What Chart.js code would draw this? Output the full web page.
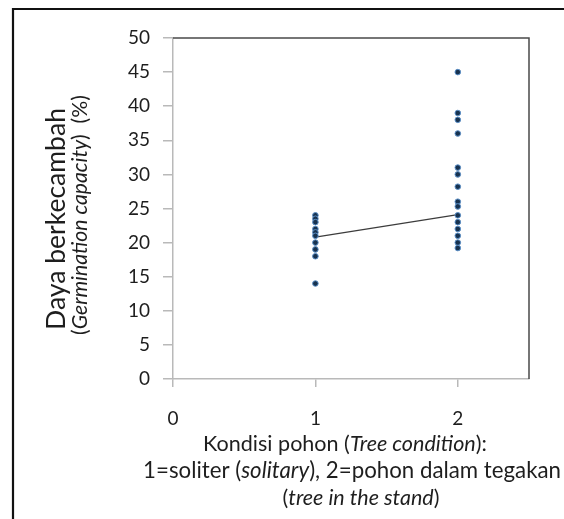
<!DOCTYPE html>
<html>
<head>
<meta charset="utf-8">
<script src="https://cdn.jsdelivr.net/npm/chart.js@4.4.1/dist/chart.umd.min.js"></script>
<style>
  html, body { margin: 0; padding: 0; background: #fff; }
  #wrap { position: relative; width: 564px; height: 519px; }
</style>
</head>
<body>
<div id="wrap"><canvas id="chart" width="564" height="519"></canvas></div>
<script>
// Data
const conditionCodes = [1, 2];
const solitaryValues = [24, 23.5, 23, 22, 21.5, 21, 20, 19, 18, 14];
const standValues = [45, 39, 38, 36, 31, 30, 28.2, 26, 25.3, 24, 23, 22, 21, 20, 19.2];
const trendValues = [20.8, 24.1];
const yTicks = [0, 5, 10, 15, 20, 25, 30, 35, 40, 45, 50];
const xTicks = [0, 1, 2];

const FONT = 'Lato, "Open Sans", sans-serif';
const TEXT_COLOR = '#1e1e1e';
const AXIS_GRAY = '#b9b9b9';

const pointStyle = {
  type: 'scatter',
  pointRadius: 2.8,
  pointHoverRadius: 2.8,
  backgroundColor: '#17324f',
  borderColor: '#5b8fc7',
  borderWidth: 1,
  showLine: false
};

// Titles have italic parts, so they are drawn by hand.
// Font size is picked so the line gets about the width it has in the picture.
function drawMixed(ctx, parts, cx, cy, targetWidth) {
  const widthAt = size => parts.reduce((sum, p) => {
    ctx.font = (p.italic ? 'italic ' : '') + size + 'px ' + FONT;
    return sum + ctx.measureText(p.t).width;
  }, 0);
  const size = 20 * targetWidth / widthAt(20);
  const fonts = parts.map(p => (p.italic ? 'italic ' : '') + size + 'px ' + FONT);
  let x = cx - widthAt(size) / 2;
  ctx.textBaseline = 'middle';
  ctx.textAlign = 'left';
  parts.forEach((p, i) => {
    ctx.font = fonts[i];
    ctx.fillText(p.t, x, cy);
    x += ctx.measureText(p.t).width;
  });
}

const decorPlugin = {
  id: 'decor',
  afterDraw(chart) {
    const ctx = chart.ctx;
    const a = chart.chartArea;
    ctx.save();
    // plot frame top and right
    ctx.strokeStyle = '#4a4a4a';
    ctx.lineWidth = 1.5;
    ctx.beginPath();
    ctx.moveTo(a.left, a.top);
    ctx.lineTo(a.right, a.top);
    ctx.lineTo(a.right, a.bottom);
    ctx.stroke();
    // outer picture border
    ctx.strokeStyle = '#111';
    ctx.lineWidth = 2.2;
    ctx.beginPath();
    ctx.moveTo(13, 519);
    ctx.lineTo(13, 9);
    ctx.lineTo(564, 9);
    ctx.stroke();

    ctx.fillStyle = TEXT_COLOR;
    // x title
    drawMixed(ctx, [{ t: 'Kondisi pohon (' }, { t: 'Tree condition', italic: true }, { t: '):' }], 345, 444, 284);
    drawMixed(ctx, [{ t: '1=soliter (' }, { t: 'solitary', italic: true }, { t: '), 2=pohon dalam tegakan' }], 352, 471, 418);
    drawMixed(ctx, [{ t: '(' }, { t: 'tree in the stand', italic: true }, { t: ')' }], 361, 498, 157);
    // y title
    ctx.save();
    ctx.translate(56, 219);
    ctx.rotate(-Math.PI / 2);
    drawMixed(ctx, [{ t: 'Daya berkecambah' }], 0, 0, 222);
    ctx.restore();
    ctx.save();
    ctx.translate(80, 215);
    ctx.rotate(-Math.PI / 2);
    drawMixed(ctx, [{ t: '(' }, { t: 'Germination capacity', italic: true }, { t: ')  (%)' }], 0, 0, 240);
    ctx.restore();
    ctx.restore();
  }
};

new Chart(document.getElementById('chart'), {
  type: 'scatter',
  data: {
    datasets: [
      Object.assign({ label: 'soliter', data: solitaryValues.map(v => ({ x: conditionCodes[0], y: v })) }, pointStyle),
      Object.assign({ label: 'tegakan', data: standValues.map(v => ({ x: conditionCodes[1], y: v })) }, pointStyle),
      {
        type: 'line',
        label: 'rata-rata',
        data: conditionCodes.map((c, i) => ({ x: c, y: trendValues[i] })),
        borderColor: '#3c3c3c',
        borderWidth: 1.2,
        pointRadius: 0,
        fill: false,
        order: 1
      }
    ]
  },
  options: {
    responsive: false,
    animation: false,
    events: [],
    layout: { padding: { left: 113, top: 38, right: 35, bottom: 90 } },
    plugins: { legend: { display: false }, tooltip: { enabled: false } },
    scales: {
      x: {
        type: 'linear',
        min: 0,
        max: 2.5,
        afterFit(scale) { scale.height = 50; },
        afterBuildTicks(scale) { scale.ticks = xTicks.map(v => ({ value: v })); },
        ticks: { font: { family: FONT, size: 19 }, color: TEXT_COLOR, padding: 20 },
        grid: { drawOnChartArea: false, drawTicks: true, tickLength: 8, color: AXIS_GRAY, lineWidth: 1.5 },
        border: { color: AXIS_GRAY, width: 1.5 }
      },
      y: {
        min: 0,
        max: 50,
        afterFit(scale) { scale.width = 60; },
        afterBuildTicks(scale) { scale.ticks = yTicks.map(v => ({ value: v })); },
        ticks: { font: { family: FONT, size: 19 }, color: TEXT_COLOR, padding: 13 },
        grid: { drawOnChartArea: false, drawTicks: true, tickLength: 10, color: AXIS_GRAY, lineWidth: 1.5 },
        border: { color: AXIS_GRAY, width: 1.5 }
      }
    }
  },
  plugins: [decorPlugin]
});
</script>
</body>
</html>
